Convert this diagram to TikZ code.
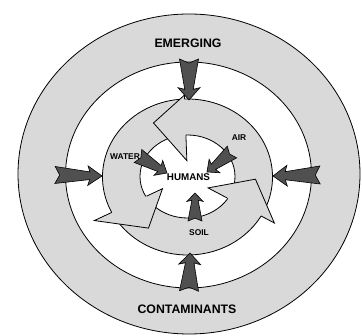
\documentclass[tikz,border=0pt]{standalone}
\usepackage{fontspec}
\setmainfont{Liberation Sans}
\usetikzlibrary{calc}

\definecolor{ringgray}{HTML}{D9D9D9}
\definecolor{dartgray}{HTML}{505050}

% notched dark arrow from tail #1 to tip #2, half width #3
\newcommand{\flowdart}[3]{%
  \filldraw[darkarrow] ($(#1)!#3!90:(#2)$) -- ($(#1)!0.1!(#2)$)
    -- ($(#1)!#3!-90:(#2)$) -- ($(#1)!0.74!(#2)!0.45*#3!-90:(#2)$)
    -- ($(#1)!0.70!(#2)!1.15*#3!-90:(#2)$) -- (#2)
    -- ($(#1)!0.70!(#2)!1.15*#3!90:(#2)$)
    -- ($(#1)!0.74!(#2)!0.45*#3!90:(#2)$) -- cycle;}

\begin{document}
\begin{tikzpicture}[x=1pt, y=-1pt, line width=0.8pt,
    ring/.style={draw=black, fill=ringgray},
    hole/.style={draw=black, fill=white},
    cyclehead/.style={draw=black, fill=ringgray, line join=miter},
    darkarrow/.style={draw=black, fill=dartgray, line width=0.6pt, line join=miter},
    bigtag/.style={font=\bfseries\fontsize{12.3}{14}\selectfont, inner sep=0pt},
    midtag/.style={font=\bfseries\fontsize{9.8}{11}\selectfont, inner sep=0pt},
    smalltag/.style={font=\bfseries\fontsize{8.4}{9}\selectfont, inner sep=0pt}]
    \useasboundingbox (0,0) rectangle (362,336);

    % Rings
    \draw[ring] (189,174) ellipse [x radius=171, y radius=160];
    \draw[hole] (188.5,175) ellipse [x radius=123, y radius=113];
    \draw[ring] (187.5,177) ellipse [x radius=85, y radius=78];
    \draw[hole] (187.5,176.5) ellipse [x radius=47.5, y radius=41.5];

    % Cycle arrow heads
    \begin{scope}[shift={(187.5,177)}, xscale=85, yscale=-78]
      \foreach \b/\o/\i in {92/1.05/0.21, 207/1.23/0.33, 330/1.18/0.28}
        \filldraw[cyclehead] (\b:1) -- (\b:\o) -- (\b+28:0.8) -- (\b:\i) -- (\b:0.54);
    \end{scope}

    % Outer arrows
    \coordinate (emTail) at (189,59);   \coordinate (emTip) at (189,100);
    \coordinate (coTail) at (189,291);  \coordinate (coTip) at (190,253);
    \coordinate (leTail) at (55,175);   \coordinate (leTip) at (102,176);
    \coordinate (riTail) at (320,175);  \coordinate (riTip) at (273,176);
    \flowdart{emTail}{emTip}{9.5pt}
    \flowdart{coTail}{coTip}{9.5pt}
    \flowdart{leTail}{leTip}{8.5pt}
    \flowdart{riTail}{riTip}{9pt}

    % Inner arrows
    \coordinate (waTail) at (138,156);  \coordinate (waTip) at (167,173);
    \coordinate (aiTail) at (232,152);  \coordinate (aiTip) at (207,172);
    \coordinate (soTail) at (195,221);  \coordinate (soTip) at (195,193);
    \flowdart{waTail}{waTip}{7.5pt}
    \flowdart{aiTail}{aiTip}{7.5pt}
    \flowdart{soTail}{soTip}{7pt}

    % Labels
    \node[bigtag] (emerging) at (188,43) {EMERGING};
    \node[bigtag] (contam) at (187,309) {CONTAMINANTS};
    \node[midtag] (humans) at (188.5,177) {HUMANS};
    \node[smalltag] (water) at (125,156.5) {WATER};
    \node[smalltag] (air) at (239,137.5) {AIR};
    \node[smalltag] (soil) at (199,233) {SOIL};
\end{tikzpicture}
\end{document}
